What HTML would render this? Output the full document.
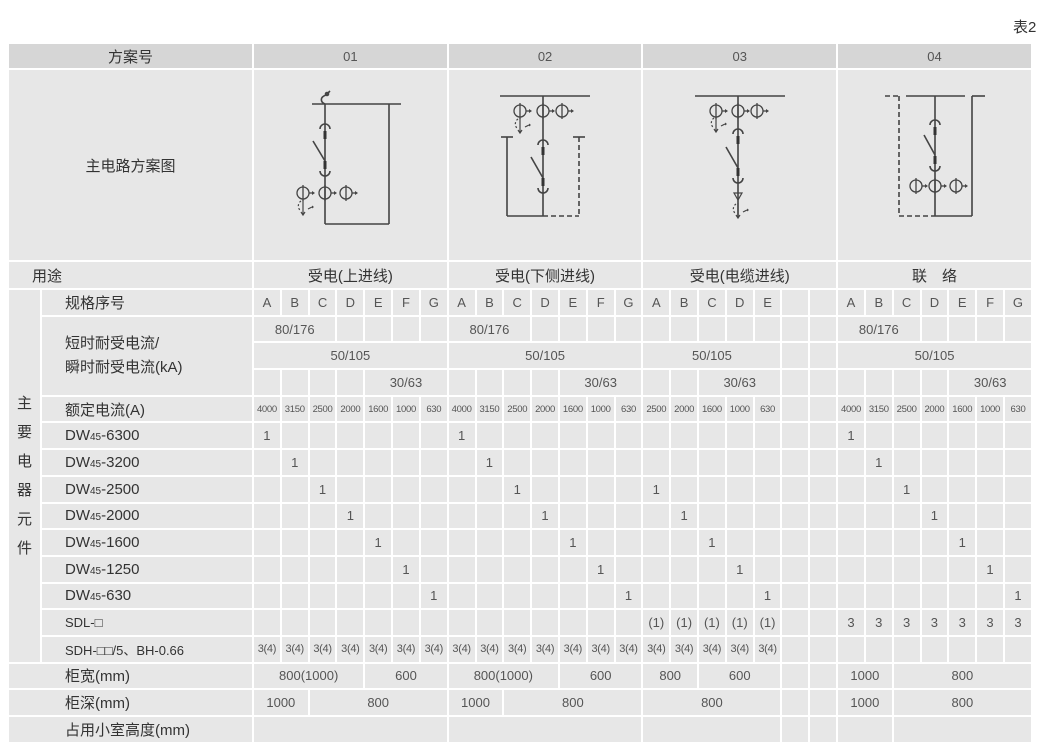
<!DOCTYPE html>
<html><head><meta charset="utf-8">
<style>
html,body{margin:0;padding:0;background:#fff;}
body{width:1040px;height:751px;position:relative;overflow:hidden;font-family:"Liberation Sans","Noto Sans CJK SC",sans-serif;color:#444;}
table{position:absolute;left:7px;top:42px;width:1026px;border-collapse:collapse;table-layout:fixed;}
td{border:2px solid #fff;background:#e7e7e7;text-align:center;font-size:13px;padding:0;color:#555;white-space:nowrap;overflow:hidden;}
tr.h td{background:#d6d6d6;height:24px;font-size:13px;}
td.l{text-align:left;padding-left:23px;font-size:15px !important;color:#333;letter-spacing:0 !important;}
td.c{font-size:15px !important;color:#333;}
tr.r td{height:24.7px;}
tr.u td{height:26px;}
tr.s td{font-size:9.5px;letter-spacing:-0.3px;}
tr.t td{font-size:11px;letter-spacing:-0.3px;}
sub{font-size:10px;vertical-align:baseline;}
.v{font-size:15px;color:#333;line-height:29px;}
#t2{position:absolute;left:1013px;top:16px;font-size:15px;color:#333;}
svg{position:absolute;left:0;top:0;}
</style></head><body>
<div id="t2">表2</div>
<table>
<colgroup><col style="width:33px"><col style="width:212px">
<col><col><col><col><col><col><col><col><col><col><col><col><col><col><col><col><col><col><col><col><col><col><col><col><col><col><col><col></colgroup>
<tr class="h"><td colspan="2" class="c">方案号</td><td colspan="7">01</td><td colspan="7">02</td><td colspan="7">03</td><td colspan="7">04</td></tr>
<tr><td colspan="2" class="c" style="height:190px">主电路方案图</td><td colspan="7"></td><td colspan="7"></td><td colspan="7"></td><td colspan="7"></td></tr>
<tr class="r u"><td colspan="2" class="l">用途</td><td colspan="7" class="c">受电(上进线)</td><td colspan="7" class="c">受电(下侧进线)</td><td colspan="7" class="c">受电(电缆进线)</td><td colspan="7" class="c">联　络</td></tr>
<tr class="r"><td rowspan="14"><div class="v">主<br>要<br>电<br>器<br>元<br>件</div></td><td class="l">规格序号</td>
<td>A</td><td>B</td><td>C</td><td>D</td><td>E</td><td>F</td><td>G</td>
<td>A</td><td>B</td><td>C</td><td>D</td><td>E</td><td>F</td><td>G</td>
<td>A</td><td>B</td><td>C</td><td>D</td><td>E</td><td></td><td></td>
<td>A</td><td>B</td><td>C</td><td>D</td><td>E</td><td>F</td><td>G</td></tr>
<tr class="r"><td rowspan="3" class="l" style="line-height:24px">短时耐受电流/<br>瞬时耐受电流(kA)</td>
<td colspan="3">80/176</td><td></td><td></td><td></td><td></td>
<td colspan="3">80/176</td><td></td><td></td><td></td><td></td>
<td></td><td></td><td></td><td></td><td></td><td></td><td></td>
<td colspan="3">80/176</td><td></td><td></td><td></td><td></td></tr>
<tr class="r"><td colspan="7">50/105</td><td colspan="7">50/105</td><td colspan="5">50/105</td><td></td><td></td><td colspan="7">50/105</td></tr>
<tr class="r"><td></td><td></td><td></td><td></td><td colspan="3">30/63</td>
<td></td><td></td><td></td><td></td><td colspan="3">30/63</td>
<td></td><td></td><td colspan="3">30/63</td><td></td><td></td>
<td></td><td></td><td></td><td></td><td colspan="3">30/63</td></tr>
<tr class="r s"><td class="l">额定电流(A)</td>
<td>4000</td><td>3150</td><td>2500</td><td>2000</td><td>1600</td><td>1000</td><td>630</td>
<td>4000</td><td>3150</td><td>2500</td><td>2000</td><td>1600</td><td>1000</td><td>630</td>
<td>2500</td><td>2000</td><td>1600</td><td>1000</td><td>630</td><td></td><td></td>
<td>4000</td><td>3150</td><td>2500</td><td>2000</td><td>1600</td><td>1000</td><td>630</td></tr>
<tr class="r"><td class="l">DW<sub>45</sub>-6300</td><td>1</td><td></td><td></td><td></td><td></td><td></td><td></td><td>1</td><td></td><td></td><td></td><td></td><td></td><td></td><td></td><td></td><td></td><td></td><td></td><td></td><td></td><td>1</td><td></td><td></td><td></td><td></td><td></td><td></td></tr>
<tr class="r"><td class="l">DW<sub>45</sub>-3200</td><td></td><td>1</td><td></td><td></td><td></td><td></td><td></td><td></td><td>1</td><td></td><td></td><td></td><td></td><td></td><td></td><td></td><td></td><td></td><td></td><td></td><td></td><td></td><td>1</td><td></td><td></td><td></td><td></td><td></td></tr>
<tr class="r"><td class="l">DW<sub>45</sub>-2500</td><td></td><td></td><td>1</td><td></td><td></td><td></td><td></td><td></td><td></td><td>1</td><td></td><td></td><td></td><td></td><td>1</td><td></td><td></td><td></td><td></td><td></td><td></td><td></td><td></td><td>1</td><td></td><td></td><td></td><td></td></tr>
<tr class="r"><td class="l">DW<sub>45</sub>-2000</td><td></td><td></td><td></td><td>1</td><td></td><td></td><td></td><td></td><td></td><td></td><td>1</td><td></td><td></td><td></td><td></td><td>1</td><td></td><td></td><td></td><td></td><td></td><td></td><td></td><td></td><td>1</td><td></td><td></td><td></td></tr>
<tr class="r"><td class="l">DW<sub>45</sub>-1600</td><td></td><td></td><td></td><td></td><td>1</td><td></td><td></td><td></td><td></td><td></td><td></td><td>1</td><td></td><td></td><td></td><td></td><td>1</td><td></td><td></td><td></td><td></td><td></td><td></td><td></td><td></td><td>1</td><td></td><td></td></tr>
<tr class="r"><td class="l">DW<sub>45</sub>-1250</td><td></td><td></td><td></td><td></td><td></td><td>1</td><td></td><td></td><td></td><td></td><td></td><td></td><td>1</td><td></td><td></td><td></td><td></td><td>1</td><td></td><td></td><td></td><td></td><td></td><td></td><td></td><td></td><td>1</td><td></td></tr>
<tr class="r"><td class="l">DW<sub>45</sub>-630</td><td></td><td></td><td></td><td></td><td></td><td></td><td>1</td><td></td><td></td><td></td><td></td><td></td><td></td><td>1</td><td></td><td></td><td></td><td></td><td>1</td><td></td><td></td><td></td><td></td><td></td><td></td><td></td><td></td><td>1</td></tr>
<tr class="r"><td class="l" style="font-size:13px !important">SDL-□</td><td></td><td></td><td></td><td></td><td></td><td></td><td></td><td></td><td></td><td></td><td></td><td></td><td></td><td></td><td>(1)</td><td>(1)</td><td>(1)</td><td>(1)</td><td>(1)</td><td></td><td></td><td>3</td><td>3</td><td>3</td><td>3</td><td>3</td><td>3</td><td>3</td></tr>
<tr class="r t"><td class="l" style="font-size:13px !important">SDH-□□/5、BH-0.66</td><td>3(4)</td><td>3(4)</td><td>3(4)</td><td>3(4)</td><td>3(4)</td><td>3(4)</td><td>3(4)</td><td>3(4)</td><td>3(4)</td><td>3(4)</td><td>3(4)</td><td>3(4)</td><td>3(4)</td><td>3(4)</td><td>3(4)</td><td>3(4)</td><td>3(4)</td><td>3(4)</td><td>3(4)</td><td></td><td></td><td></td><td></td><td></td><td></td><td></td><td></td><td></td></tr>
<tr class="r"><td colspan="2" class="l" style="padding-left:56px">柜宽(mm)</td><td colspan="4">800(1000)</td><td colspan="3">600</td><td colspan="4">800(1000)</td><td colspan="3">600</td><td colspan="2">800</td><td colspan="3">600</td><td></td><td></td><td colspan="2">1000</td><td colspan="5">800</td></tr>
<tr class="r"><td colspan="2" class="l" style="padding-left:56px">柜深(mm)</td><td colspan="2">1000</td><td colspan="5">800</td><td colspan="2">1000</td><td colspan="5">800</td><td colspan="5">800</td><td></td><td></td><td colspan="2">1000</td><td colspan="5">800</td></tr>
<tr class="r"><td colspan="2" class="l" style="padding-left:56px">占用小室高度(mm)</td><td colspan="7"></td><td colspan="7"></td><td colspan="5"></td><td></td><td></td><td colspan="2"></td><td colspan="5"></td></tr>
</table>
<svg width="1040" height="751" viewBox="0 0 1040 751" fill="none" stroke="#444" stroke-width="1.6">
<defs>
<g id="pt"><path d="M-5,2 A5,5 0 0 1 5,2"/><rect x="-1.5" y="4" width="3" height="8" fill="#333" stroke="none"/></g>
<g id="pb"><rect x="-1.5" y="-12" width="3" height="8" fill="#333" stroke="none"/><path d="M-5,-2 A5,5 0 0 0 5,-2"/></g>
<g id="ct"><circle r="6" stroke-width="1.3"/><line x1="0" y1="-8" x2="0" y2="8" stroke-width="1.3"/><path d="M6,0 H9" stroke-width="1.3"/><path d="M9,-2 L12,0 L9,2Z" fill="#444" stroke="none"/></g>
<g id="ea" stroke-width="1.2"><path d="M-2,-6 A6,6 0 0 0 -2,4" stroke-dasharray="2 2"/><line x1="0" y1="-7" x2="0" y2="7"/><path d="M-2,5 L0,8 L2,5" /><path d="M5,2 L9,0" /><path d="M9,-1.5 L11,0 L9,1.5Z" fill="#444" stroke="none"/></g>
</defs>
<!-- 01 -->
<line x1="312" y1="104" x2="401" y2="104"/>
<path d="M325,104 C320,102 320,97 326,95 L330,91"/><circle cx="327" cy="94" r="1.5"/>
<line x1="325" y1="104" x2="325" y2="224"/>
<line x1="389" y1="104" x2="389" y2="224"/>
<line x1="325" y1="224" x2="389" y2="224"/>
<use href="#pt" x="325" y="127"/>
<line x1="313" y1="141" x2="325" y2="161"/>
<use href="#pb" x="325" y="173"/>
<use href="#ct" x="303" y="193"/><use href="#ct" x="325" y="193"/><use href="#ct" x="346" y="193"/>
<use href="#ea" x="303" y="207"/>
<!-- 02 -->
<line x1="500" y1="96" x2="590" y2="96"/>
<line x1="543" y1="96" x2="543" y2="216"/>
<use href="#ct" x="520" y="111"/><use href="#ct" x="543" y="111"/><use href="#ct" x="562" y="111"/>
<use href="#ea" x="520" y="125"/>
<use href="#pt" x="543" y="143"/>
<line x1="531" y1="157" x2="543" y2="178"/>
<use href="#pb" x="543" y="190"/>
<line x1="507" y1="137" x2="507" y2="216"/><line x1="501" y1="137" x2="513" y2="137"/>
<line x1="507" y1="216" x2="543" y2="216"/>
<line x1="543" y1="216" x2="579" y2="216" stroke-dasharray="5 3"/>
<line x1="579" y1="137" x2="579" y2="216" stroke-dasharray="5 3"/><line x1="573" y1="137" x2="585" y2="137"/>
<!-- 03 -->
<line x1="695" y1="96" x2="785" y2="96"/>
<line x1="738" y1="96" x2="738" y2="217"/>
<use href="#ct" x="716" y="111"/><use href="#ct" x="738" y="111"/><use href="#ct" x="757" y="111"/>
<use href="#ea" x="716" y="124"/>
<use href="#pt" x="738" y="132"/>
<line x1="726" y1="147" x2="738" y2="168"/>
<use href="#pb" x="738" y="180"/>
<path d="M734,193 L742,193 L738,200Z" stroke-width="1.2"/>
<use href="#ea" x="738" y="210"/>
<!-- 04 -->
<line x1="885" y1="96" x2="900" y2="96" stroke-dasharray="5 3"/>
<line x1="906" y1="96" x2="965" y2="96"/>
<line x1="972" y1="96" x2="985" y2="96"/>
<line x1="899" y1="96" x2="899" y2="216" stroke-dasharray="5 3"/>
<line x1="899" y1="216" x2="935" y2="216" stroke-dasharray="5 3"/>
<line x1="935" y1="96" x2="935" y2="216"/>
<line x1="972" y1="96" x2="972" y2="216"/>
<line x1="935" y1="216" x2="972" y2="216"/>
<use href="#pt" x="935" y="123"/>
<line x1="924" y1="135" x2="935" y2="155"/>
<use href="#pb" x="935" y="168"/>
<use href="#ct" x="916" y="186"/><use href="#ct" x="935" y="186"/><use href="#ct" x="956" y="186"/>
</svg>
</body></html>
